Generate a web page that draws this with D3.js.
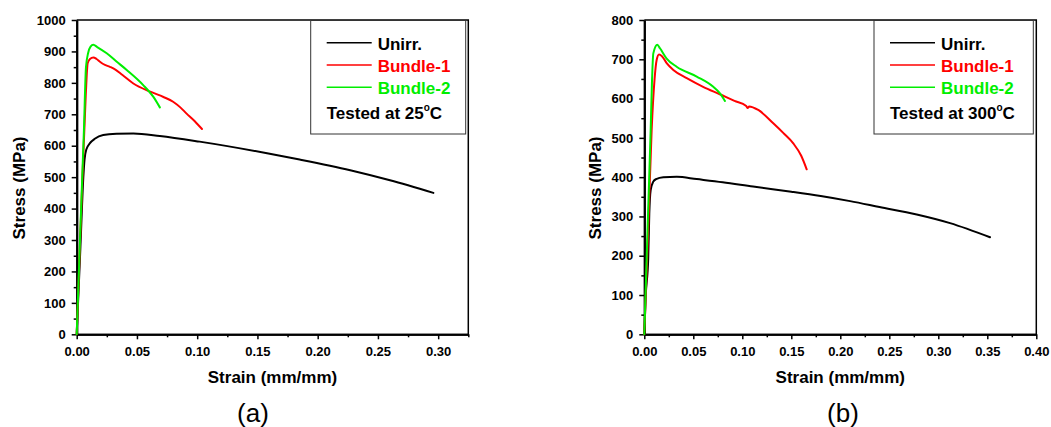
<!DOCTYPE html>
<html>
<head>
<meta charset="utf-8">
<script src="https://cdn.jsdelivr.net/npm/d3@7"></script>
<style>
  body { margin: 0; background: #fff; }
  svg { display: block; font-family: Arial, "Liberation Sans", sans-serif; }
</style>
</head>
<body>
<svg width="1051" height="427"></svg>
<script>
// tensile curves, [strain (mm/mm), stress (MPa)]
var unirr25 = [[0, 0], [0.003, 270], [0.0055, 500], [0.0065, 556], [0.008, 588], [0.011, 608], [0.015, 622],
  [0.022, 634], [0.033, 638], [0.047, 639], [0.069, 631], [0.102, 613], [0.158, 576], [0.185, 556],
  [0.227, 522], [0.26, 490], [0.296, 450]];
var bundle1_25 = [[0, 0], [0.004, 420], [0.0075, 760], [0.0091, 862], [0.011, 876], [0.0138, 881],
  [0.0165, 876], [0.0193, 867], [0.022, 860], [0.0276, 851], [0.0304, 846], [0.038, 825], [0.047, 798],
  [0.061, 772], [0.072, 755], [0.08, 740], [0.086, 722], [0.091, 703], [0.098, 678], [0.104, 653]];
var bundle2_25 = [[0, 0], [0.003, 330], [0.006, 650], [0.0077, 850], [0.0095, 895], [0.0115, 915],
  [0.0138, 921], [0.017, 914], [0.0249, 894], [0.033, 868], [0.0415, 841], [0.0552, 793], [0.0635, 756],
  [0.069, 722]];

var unirr300 = [[0, 0], [0.0014, 96], [0.004, 193], [0.0051, 308], [0.0065, 367], [0.009, 388],
  [0.012, 395], [0.0194, 400], [0.0331, 401], [0.0535, 395], [0.08, 387], [0.111, 376], [0.15, 363],
  [0.18, 352], [0.21, 339], [0.24, 324], [0.278, 305], [0.312, 283], [0.3528, 247]];
var bundle1_300 = [[0, 0], [0.004, 270], [0.0075, 520], [0.0105, 650], [0.0126, 698], [0.015, 712],
  [0.018, 708], [0.0228, 690], [0.0296, 673], [0.0433, 652], [0.06, 630], [0.077, 611], [0.092, 594],
  [0.104, 581], [0.1055, 576], [0.107, 580], [0.1163, 571], [0.1316, 537], [0.142, 512], [0.152, 486],
  [0.16, 455], [0.1657, 420]];
var bundle2_300 = [[0, 0], [0.0035, 280], [0.0065, 520], [0.0078, 640], [0.0092, 715], [0.0133, 737],
  [0.016, 728], [0.0228, 702], [0.033, 681], [0.0535, 656], [0.0704, 630], [0.077, 614], [0.0823, 594]];

var seriesNames = ["Unirr.", "Bundle-1", "Bundle-2"];
var seriesColors = ["#000000", "#ff0000", "#00ee00"];

var xTicksA = [0, 0.05, 0.10, 0.15, 0.20, 0.25, 0.30];
var xMinorA = [0.025, 0.075, 0.125, 0.175, 0.225, 0.275, 0.325];
var yTicksA = [0, 100, 200, 300, 400, 500, 600, 700, 800, 900, 1000];
var xTicksB = [0, 0.05, 0.10, 0.15, 0.20, 0.25, 0.30, 0.35, 0.40];
var xMinorB = [0.025, 0.075, 0.125, 0.175, 0.225, 0.275, 0.325, 0.375];
var yTicksB = [0, 100, 200, 300, 400, 500, 600, 700, 800];

var svg = d3.select("svg");

function panel(p) {
  var x = d3.scaleLinear().domain(p.xDomain).range([p.left, p.right]);
  var y = d3.scaleLinear().domain(p.yDomain).range([334.3, 20]);
  var g = svg.append("g");

  // minor ticks first, no labels
  var yMinor = p.yTicks.slice(1).map(function (d) { return d - 50; });
  g.append("g").attr("transform", "translate(0,334.3)")
    .call(d3.axisBottom(x).tickValues(p.xMinor).tickSize(3).tickSizeOuter(0).tickFormat(""));
  g.append("g").attr("transform", "translate(" + p.left + ",0)")
    .call(d3.axisLeft(y).tickValues(yMinor).tickSize(3).tickSizeOuter(0).tickFormat(""));

  g.append("g").attr("transform", "translate(0,334.3)")
    .call(d3.axisBottom(x).tickValues(p.xTicks).tickSize(5).tickSizeOuter(0).tickPadding(7)
      .tickFormat(d3.format(".2f")));
  g.append("g").attr("transform", "translate(" + p.left + ",0)")
    .call(d3.axisLeft(y).tickValues(p.yTicks).tickSize(5).tickSizeOuter(0).tickPadding(6)
      .tickFormat(d3.format("d")));

  g.selectAll(".tick line").attr("stroke", "#000").attr("stroke-width", 1.5);
  g.selectAll(".domain").attr("stroke", "#000").attr("stroke-width", 2);
  g.selectAll(".tick text").attr("font-size", 13).attr("font-weight", "bold").attr("fill", "#000")
    .attr("font-family", "Arial, 'Liberation Sans', sans-serif");

  // top and right frame
  g.append("path")
    .attr("d", "M" + p.left + ",20H" + p.right + "V334.3")
    .attr("fill", "none").attr("stroke", "#000").attr("stroke-width", 1.5);

  var line = d3.line()
    .x(function (d) { return x(d[0]); })
    .y(function (d) { return y(d[1]); })
    .curve(d3.curveMonotoneX);

  p.data.forEach(function (data, i) {
    g.append("path")
      .datum(data)
      .attr("fill", "none")
      .attr("stroke", seriesColors[i])
      .attr("stroke-linejoin", "round")
      .attr("stroke-linecap", "round")
      .attr("stroke-width", 2)
      .attr("d", line);
  });

  // legend
  var lg = g.append("g");
  lg.append("rect")
    .attr("x", p.lx).attr("y", 20.5).attr("width", p.lw).attr("height", 113.5)
    .attr("fill", "#fff").attr("stroke", "#333").attr("stroke-width", 1);
  seriesNames.forEach(function (name, i) {
    var ly = 42.7 + i * 22.3;
    lg.append("line")
      .attr("x1", p.lx + 16).attr("x2", p.lx + 61).attr("y1", ly).attr("y2", ly)
      .attr("stroke", seriesColors[i]).attr("stroke-width", 1.5);
    lg.append("text")
      .attr("x", p.lx + 67).attr("y", ly + 7)
      .attr("font-size", 17).attr("font-weight", "bold").attr("fill", seriesColors[i])
      .text(name);
  });
  var t = lg.append("text")
    .attr("x", p.lx + 16).attr("y", 119)
    .attr("font-size", 17).attr("font-weight", "bold").attr("fill", "#000");
  t.append("tspan").text("Tested at " + p.temp);
  t.append("tspan").attr("font-size", 10).attr("dy", -8).text("o");
  t.append("tspan").attr("dy", 8).text("C");

  // axis titles
  g.append("text")
    .attr("x", (p.left + p.right) / 2).attr("y", 383)
    .attr("text-anchor", "middle").attr("font-size", 17).attr("font-weight", "bold")
    .text("Strain (mm/mm)");
  g.append("text")
    .attr("transform", "translate(" + p.ytx + ",188) rotate(-90)")
    .attr("text-anchor", "middle").attr("font-size", 17).attr("font-weight", "bold")
    .text("Stress (MPa)");
  g.append("text")
    .attr("x", p.capX).attr("y", 422)
    .attr("text-anchor", "middle").attr("font-size", 26)
    .text(p.caption);
}

panel({
  left: 76.7, right: 468.3, xDomain: [0, 0.325], yDomain: [0, 1000],
  xTicks: xTicksA, xMinor: xMinorA, yTicks: yTicksA,
  data: [unirr25, bundle1_25, bundle2_25],
  lx: 310.7, lw: 155, temp: "25", ytx: 25, capX: 253, caption: "(a)"
});
panel({
  left: 644.3, right: 1036.3, xDomain: [0, 0.40], yDomain: [0, 800],
  xTicks: xTicksB, xMinor: xMinorB, yTicks: yTicksB,
  data: [unirr300, bundle1_300, bundle2_300],
  lx: 874, lw: 159.3, temp: "300", ytx: 601, capX: 843, caption: "(b)"
});
</script>
</body>
</html>
